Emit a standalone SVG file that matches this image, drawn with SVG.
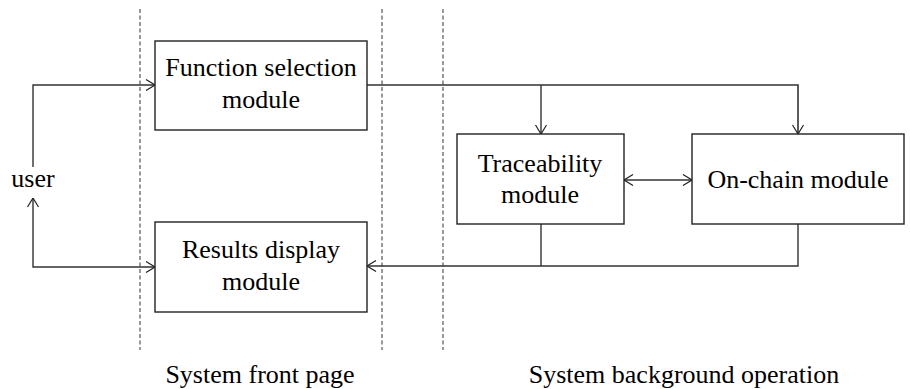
<svg xmlns="http://www.w3.org/2000/svg" width="910" height="389" viewBox="0 0 910 389">
<defs>
<marker id="arr" viewBox="0 0 10 12" refX="10" refY="6" markerWidth="10" markerHeight="12" markerUnits="userSpaceOnUse" orient="auto-start-reverse">
<path d="M1,0.5 L10,6 L1,11.5" fill="none" stroke="#222" stroke-width="1.2"/>
</marker>
</defs>
<style>
.box{fill:#fff;stroke:#222;stroke-width:1.4}
.t{font-family:"Liberation Serif","Times New Roman",serif;font-size:26px;fill:#000;text-anchor:middle}
.c{fill:none;stroke:#333;stroke-width:1.4}
.d{fill:none;stroke:#333;stroke-width:1;stroke-dasharray:4,2.5}
</style>
<rect width="910" height="389" fill="#fff"/>
<g id="dividers">
<line class="d" x1="140" y1="9" x2="140" y2="350"/>
<line class="d" x1="382" y1="9" x2="382" y2="350"/>
<line class="d" x1="443" y1="9" x2="443" y2="350"/>
</g>
<g id="connectors">
<polyline class="c" points="33,167 33,85 155,85" marker-end="url(#arr)"/>
<polyline class="c" points="33,198 33,267 155,267" marker-start="url(#arr)" marker-end="url(#arr)"/>
<polyline class="c" points="367,85 798,85 798,134" marker-end="url(#arr)" style="stroke-width:1.6"/>
<line class="c" x1="541" y1="85" x2="541" y2="134" marker-end="url(#arr)"/>
<line class="c" x1="624" y1="180" x2="692" y2="180" marker-start="url(#arr)" marker-end="url(#arr)"/>
<line class="c" x1="541" y1="224" x2="541" y2="266"/>
<polyline class="c" points="798,224 798,266 367,266" marker-end="url(#arr)"/>
</g>
<g id="user">
<text class="t" x="33" y="187">user</text>
</g>
<g id="function-selection">
<rect class="box" x="155" y="41" width="212" height="89"/>
<text class="t" x="261" y="76">Function selection</text>
<text class="t" x="261" y="108">module</text>
</g>
<g id="results-display">
<rect class="box" x="155" y="222" width="212" height="90"/>
<text class="t" x="261" y="258">Results display</text>
<text class="t" x="261" y="290">module</text>
</g>
<g id="traceability">
<rect class="box" x="457" y="134" width="167" height="90"/>
<text class="t" x="540" y="172">Traceability</text>
<text class="t" x="540" y="203">module</text>
</g>
<g id="on-chain">
<rect class="box" x="692" y="134" width="212" height="90"/>
<text class="t" x="798" y="188">On-chain module</text>
</g>
<g id="labels">
<text class="t" x="260" y="383">System front page</text>
<text class="t" x="684" y="383">System background operation</text>
</g>
</svg>
